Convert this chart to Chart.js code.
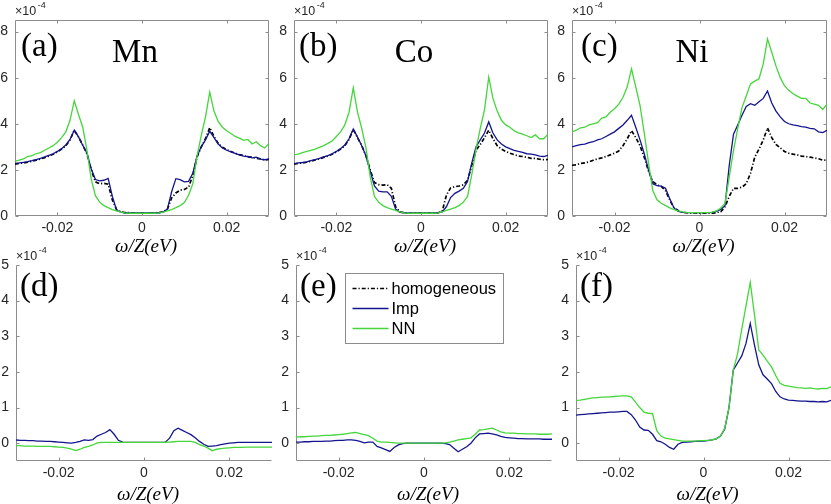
<!DOCTYPE html>
<html>
<head>
<meta charset="utf-8">
<script src="https://cdn.jsdelivr.net/npm/chart.js@4.4.1/dist/chart.umd.min.js"></script>
<style>
  body { margin: 0; background: #fff; width: 831px; height: 504px; overflow: hidden; position: relative; }
  .panel { position: absolute; }
</style>
</head>
<body>
<script>
// omega/Z grid (eV), shared by every panel
const omega = [
  -0.030, -0.029, -0.028, -0.027, -0.026, -0.025, -0.024, -0.023, -0.022, -0.021,
  -0.020, -0.019, -0.018, -0.017, -0.016, -0.015, -0.014, -0.013, -0.012, -0.011,
  -0.010, -0.009, -0.008, -0.007, -0.006, -0.005, -0.004, -0.003, -0.002, -0.001,
  0.000,
  0.001, 0.002, 0.003, 0.004, 0.005, 0.006, 0.007, 0.008, 0.009, 0.010,
  0.011, 0.012, 0.013, 0.014, 0.015, 0.016, 0.017, 0.018, 0.019, 0.020,
  0.021, 0.022, 0.023, 0.024, 0.025, 0.026, 0.027, 0.028, 0.029, 0.030
];

const xTicks = [-0.02, 0, 0.02];
const xTickLabels = ['-0.02', '0', '0.02'];
const topYTicks = [0, 2, 4, 6, 8];
const bottomYTicks = [0, 1, 2, 3, 4, 5];

// top row: DOS (x 1e-4)
const homMn = [2.25,2.28,2.30,2.33,2.38,2.42,2.47,2.53,2.60,2.68, 2.78,2.90,3.05,3.30,3.72,3.43,3.07,2.70,2.00,1.48, 1.40,1.42,1.38,0.70,0.28,0.18,0.15,0.14,0.13,0.13, 0.13,
  0.13,0.13,0.14,0.15,0.18,0.30,0.78,1.00,1.12,1.15, 1.25,1.75,2.55,3.00,3.35,3.83,3.45,3.15,2.98,2.88, 2.80,2.72,2.66,2.62,2.56,2.55,2.50,2.48,2.42,2.45];
const impMn = [2.28,2.30,2.33,2.36,2.40,2.45,2.50,2.56,2.63,2.70, 2.80,2.92,3.08,3.32,3.72,3.43,3.07,2.72,2.05,1.58, 1.52,1.55,1.63,0.85,0.25,0.17,0.14,0.13,0.13,0.13, 0.13,
  0.13,0.13,0.13,0.14,0.17,0.30,1.05,1.62,1.58,1.48, 1.50,1.85,2.60,3.00,3.30,3.68,3.40,3.12,2.95,2.85, 2.78,2.72,2.65,2.60,2.58,2.52,2.55,2.47,2.44,2.48];
const nnMn = [2.38,2.42,2.48,2.58,2.62,2.70,2.75,2.85,2.95,3.05, 3.20,3.40,3.65,4.15,5.00,4.40,3.85,2.85,1.60,0.88, 0.60,0.45,0.36,0.28,0.22,0.17,0.14,0.12,0.12,0.12, 0.12,
  0.12,0.12,0.12,0.14,0.17,0.22,0.28,0.36,0.45,0.58, 0.90,1.40,2.60,3.50,4.30,5.37,4.55,4.10,3.85,3.70, 3.58,3.45,3.38,3.28,3.32,3.12,3.22,3.05,2.95,3.15];

const homCo = [2.25,2.28,2.30,2.33,2.38,2.43,2.48,2.54,2.60,2.68, 2.78,2.90,3.05,3.32,3.75,3.40,3.05,2.62,2.00,1.45, 1.36,1.34,1.36,1.20,0.40,0.18,0.14,0.13,0.13,0.13, 0.13,
  0.13,0.13,0.13,0.14,0.20,0.90,1.22,1.27,1.30,1.35, 1.55,2.20,2.85,3.10,3.40,3.72,3.35,3.05,2.90,2.80, 2.72,2.66,2.60,2.58,2.55,2.50,2.50,2.46,2.44,2.45];
const impCo = [2.27,2.30,2.32,2.35,2.40,2.45,2.50,2.56,2.62,2.70, 2.80,2.92,3.08,3.35,3.77,3.42,3.05,2.60,1.95,1.30, 1.08,1.05,1.05,0.85,0.30,0.16,0.14,0.13,0.13,0.13, 0.13,
  0.13,0.13,0.13,0.14,0.18,0.40,0.80,0.98,1.08,1.20, 1.50,2.30,3.00,3.30,3.60,4.08,3.60,3.30,3.12,3.00, 2.92,2.85,2.80,2.76,2.70,2.68,2.65,2.60,2.58,2.63];
const nnCo = [2.65,2.68,2.75,2.80,2.85,2.90,2.98,3.05,3.15,3.25, 3.45,3.65,3.95,4.50,5.56,4.50,3.80,2.95,1.70,0.85, 0.60,0.45,0.36,0.30,0.24,0.18,0.14,0.12,0.12,0.12, 0.12,
  0.12,0.12,0.12,0.14,0.18,0.24,0.30,0.36,0.45,0.60, 0.85,1.80,2.90,3.80,4.60,6.02,5.10,4.55,4.15,3.95, 3.85,3.70,3.60,3.55,3.48,3.40,3.52,3.35,3.35,3.55];

const homNi = [2.20,2.22,2.28,2.30,2.35,2.42,2.48,2.52,2.58,2.65, 2.72,2.82,3.05,3.35,3.70,3.40,3.05,2.55,1.95,1.50, 1.35,1.28,1.10,0.70,0.35,0.24,0.16,0.14,0.13,0.13, 0.12,
  0.12,0.12,0.12,0.14,0.18,0.40,0.85,1.20,1.20,1.25, 1.40,1.85,2.55,2.90,3.30,3.82,3.40,3.10,2.95,2.80, 2.72,2.68,2.65,2.60,2.58,2.55,2.52,2.48,2.42,2.42];
const impNi = [3.00,3.05,3.10,3.12,3.18,3.22,3.30,3.35,3.45,3.55, 3.65,3.80,3.95,4.15,4.37,3.85,3.30,2.70,2.00,1.40, 1.32,1.30,1.20,0.75,0.35,0.20,0.16,0.15,0.15,0.15, 0.15,
  0.15,0.15,0.16,0.20,0.28,0.45,2.20,3.55,3.95,4.37, 4.75,4.87,4.80,4.95,5.10,5.42,4.90,4.55,4.30,4.10, 4.00,3.95,3.92,3.88,3.85,3.80,3.78,3.65,3.62,3.72];
const nnNi = [3.65,3.72,3.82,3.85,3.95,4.00,4.05,4.25,4.30,4.50, 4.65,4.85,5.15,5.60,6.38,5.60,4.80,3.60,2.30,1.10, 0.70,0.55,0.45,0.35,0.28,0.22,0.18,0.16,0.15,0.15, 0.15,
  0.15,0.15,0.17,0.22,0.35,0.55,1.70,2.85,3.80,4.70, 5.20,5.73,5.85,5.95,6.60,7.68,7.10,6.50,6.00,5.65, 5.45,5.30,5.20,5.10,5.10,4.90,4.85,4.80,4.62,4.85];

// bottom row: change relative to homogeneous (x 1e-4)
const impMnDiff = [0.09,0.08,0.08,0.07,0.07,0.06,0.06,0.05,0.05,0.04, 0.03,0.02,0.01,0.00,0.02,0.05,0.09,0.08,0.10,0.20, 0.25,0.30,0.38,0.25,0.08,0.03,0.02,0.02,0.02,0.02, 0.02,
  0.02,0.02,0.02,0.02,0.03,0.14,0.35,0.42,0.36,0.30, 0.24,0.15,0.05,-0.03,-0.09,-0.08,-0.07,-0.04,-0.02,0.00, 0.01,0.02,0.02,0.02,0.02,0.02,0.02,0.02,0.02,0.02];
const nnMnDiff = [-0.07,-0.07,-0.08,-0.08,-0.08,-0.09,-0.09,-0.09,-0.09,-0.10, -0.11,-0.12,-0.14,-0.17,-0.21,-0.17,-0.12,-0.09,-0.05,0.01, 0.02,0.02,0.02,0.02,0.02,0.02,0.02,0.02,0.02,0.02, 0.02,
  0.02,0.02,0.02,0.02,0.02,0.03,0.04,0.05,0.05,0.05, 0.05,0.02,-0.04,-0.08,-0.14,-0.21,-0.17,-0.15,-0.14,-0.13, -0.12,-0.12,-0.12,-0.11,-0.11,-0.11,-0.11,-0.11,-0.11,-0.11];

const impCoDiff = [0.03,0.03,0.04,0.04,0.05,0.05,0.05,0.06,0.06,0.07, 0.08,0.08,0.09,0.09,0.08,0.05,0.01,0.03,0.03,-0.09, -0.13,-0.18,-0.23,-0.12,-0.05,-0.01,0.00,0.00,0.00,0.00, 0.00,
  0.00,0.00,0.00,0.00,-0.01,-0.04,-0.14,-0.24,-0.17,-0.10, 0.00,0.15,0.26,0.27,0.28,0.26,0.23,0.19,0.16,0.15, 0.14,0.13,0.13,0.12,0.12,0.12,0.12,0.11,0.11,0.11];
const nnCoDiff = [0.17,0.18,0.18,0.19,0.20,0.20,0.21,0.22,0.22,0.23, 0.24,0.25,0.27,0.29,0.30,0.27,0.24,0.21,0.14,0.06, 0.03,0.03,0.02,0.01,0.00,0.00,0.00,0.00,0.00,0.00, 0.00,
  0.00,0.00,0.00,0.00,0.01,0.03,0.06,0.09,0.11,0.13, 0.15,0.25,0.37,0.38,0.40,0.42,0.37,0.32,0.29,0.28, 0.28,0.27,0.27,0.26,0.26,0.26,0.25,0.25,0.25,0.26];

const impNiDiff = [0.79,0.80,0.81,0.82,0.83,0.84,0.85,0.86,0.87,0.87, 0.88,0.89,0.89,0.80,0.65,0.45,0.37,0.36,0.25,0.07, 0.04,-0.03,-0.12,-0.17,-0.03,0.02,0.03,0.04,0.05,0.06, 0.06,
  0.07,0.09,0.12,0.20,0.40,1.00,2.05,2.25,2.45,2.80, 3.36,2.75,2.20,1.92,1.80,1.67,1.45,1.30,1.24,1.21, 1.20,1.19,1.18,1.18,1.17,1.17,1.16,1.17,1.16,1.20];
const nnNiDiff = [1.20,1.21,1.23,1.25,1.27,1.28,1.29,1.29,1.30,1.31, 1.32,1.33,1.33,1.30,1.15,1.00,0.87,0.84,0.83,0.35, 0.20,0.14,0.12,0.10,0.08,0.06,0.06,0.06,0.06,0.07, 0.07,
  0.08,0.09,0.12,0.20,0.42,1.00,2.05,2.50,3.20,3.85, 4.51,3.60,2.62,2.47,2.30,2.14,1.90,1.68,1.62,1.60, 1.58,1.56,1.55,1.54,1.55,1.53,1.52,1.54,1.53,1.58];

const seriesNames = ['homogeneous', 'Imp', 'NN'];
const panelLetters = ['(a)', '(b)', '(c)', '(d)', '(e)', '(f)'];
const elementNames = ['Mn', 'Co', 'Ni'];

const HOM = { color: '#000000', width: 1.7, dash: [4, 2, 1.2, 2], order: 3 };
const IMP = { color: '#14148f', width: 1.3, dash: [], order: 2 };
const NN = { color: '#44d63a', width: 1.3, dash: [], order: 1 };

const SANS = '"Liberation Sans", Arial, Helvetica, sans-serif';
const SERIF = '"Liberation Serif", "Times New Roman", serif';

// Frame, inward ticks, labels and legend (MATLAB look)
const decor = {
  id: 'decor',
  beforeDatasetsDraw(chart, args, o) {
    const { ctx, chartArea: a, scales: { x, y } } = chart;
    const L = Math.round(a.left) + 0.5, R = Math.round(a.right) - 0.5;
    const T = Math.round(a.top) + 0.5, B = Math.round(a.bottom) - 0.5;
    ctx.save();
    ctx.strokeStyle = '#8c8c8c';
    ctx.lineWidth = 1;
    ctx.beginPath();
    ctx.moveTo(L, T); ctx.lineTo(L, B); ctx.lineTo(R, B);
    if (o.box) { ctx.lineTo(R, T); ctx.lineTo(L, T); }
    xTicks.forEach(v => {
      const p = Math.round(x.getPixelForValue(v)) + 0.5;
      ctx.moveTo(p, B); ctx.lineTo(p, B - 3);
      if (o.box) { ctx.moveTo(p, T); ctx.lineTo(p, T + 3); }
    });
    o.yTicks.forEach(v => {
      const p = Math.round(y.getPixelForValue(v)) + 0.5;
      ctx.moveTo(L, p); ctx.lineTo(L + 3, p);
      if (o.box) { ctx.moveTo(R, p); ctx.lineTo(R - 3, p); }
    });
    ctx.stroke();
    ctx.restore();
  },
  afterDraw(chart, args, o) {
    const { ctx, chartArea: a } = chart;
    ctx.save();
    ctx.textBaseline = 'alphabetic';
    // exponent
    ctx.fillStyle = '#262626';
    ctx.textAlign = 'left';
    ctx.font = '12.5px ' + SANS;
    ctx.fillText('×10', a.left, a.top - 5);
    const w = ctx.measureText('×10').width;
    ctx.font = '9px ' + SANS;
    ctx.fillText('-4', a.left + w + 1.5, a.top - 12);
    // panel letter and element
    ctx.fillStyle = '#000';
    ctx.font = '33px ' + SERIF;
    ctx.fillText(o.letter, a.left + o.letterDx, a.top + o.letterDy);
    if (o.name) {
      ctx.textAlign = 'center';
      ctx.fillText(o.name, a.left + 120, a.top + 42);
    }
    // x label
    ctx.textAlign = 'center';
    ctx.font = 'italic 19px ' + SERIF;
    ctx.fillText('ω/Z(eV)', (a.left + a.right) / 2 + 4, a.bottom + o.xlabDy);
    // legend
    if (o.legend) {
      const bx = Math.round(a.left) + 49.5, by = Math.round(a.top) + 8.5;
      ctx.fillStyle = '#fff';
      ctx.fillRect(bx, by, 158, 70);
      ctx.strokeStyle = '#8c8c8c';
      ctx.lineWidth = 1;
      ctx.strokeRect(bx, by, 158, 70);
      [HOM, IMP, NN].forEach((s, i) => {
        const yy = by + 15 + i * 20;
        ctx.beginPath();
        ctx.strokeStyle = s.color;
        ctx.lineWidth = s.width;
        ctx.setLineDash(s.dash);
        ctx.moveTo(bx + 7, yy); ctx.lineTo(bx + 43, yy);
        ctx.stroke();
        ctx.setLineDash([]);
        ctx.fillStyle = '#000';
        ctx.textAlign = 'left';
        ctx.textBaseline = 'middle';
        ctx.font = '16.5px ' + SANS;
        ctx.fillText(seriesNames[i], bx + 46, yy + 1);
      });
    }
    ctx.restore();
  }
};

const panels = [
  { L: 15, R: 269, T: 20, B: 216, ymin: 0, ymax: 8.5, yTicks: topYTicks, box: true, letterDx: 6, letterDy: 36, xlabDy: 36, name: elementNames[0],
    series: [[homMn, HOM], [impMn, IMP], [nnMn, NN]] },
  { L: 294, R: 548, T: 20, B: 216, ymin: 0, ymax: 8.5, yTicks: topYTicks, box: true, letterDx: 5, letterDy: 36, xlabDy: 36, name: elementNames[1],
    series: [[homCo, HOM], [impCo, IMP], [nnCo, NN]] },
  { L: 572, R: 827, T: 20, B: 216, ymin: 0, ymax: 8.5, yTicks: topYTicks, box: true, letterDx: 9, letterDy: 36, xlabDy: 36, name: elementNames[2],
    series: [[homNi, HOM], [impNi, IMP], [nnNi, NN]] },
  { L: 16, R: 272, T: 265, B: 461, ymin: -0.5, ymax: 5, yTicks: bottomYTicks, box: false, letterDx: 4, letterDy: 31, xlabDy: 39,
    series: [[impMnDiff, IMP], [nnMnDiff, NN]] },
  { L: 296, R: 552, T: 265, B: 461, ymin: -0.5, ymax: 5, yTicks: bottomYTicks, box: false, letterDx: 4, letterDy: 31, xlabDy: 39, legend: true,
    series: [[impCoDiff, IMP], [nnCoDiff, NN]] },
  { L: 576, R: 831, T: 265, B: 461, ymin: -0.5, ymax: 5, yTicks: bottomYTicks, box: false, letterDx: 4, letterDy: 31, xlabDy: 39,
    series: [[impNiDiff, IMP], [nnNiDiff, NN]] }
];

panels.forEach((p, k) => {
  const padL = Math.min(p.L, 40), padT = 20, padR = Math.min(831 - p.R, 4), padB = 46;
  const div = document.createElement('div');
  div.className = 'panel';
  div.style.left = (p.L - padL) + 'px';
  div.style.top = (p.T - padT) + 'px';
  div.style.width = (p.R - p.L + padL + padR) + 'px';
  div.style.height = (p.B - p.T + padT + padB) + 'px';
  const cv = document.createElement('canvas');
  div.appendChild(cv);
  document.body.appendChild(div);

  new Chart(cv, {
    type: 'line',
    data: {
      datasets: p.series.map(([vals, st]) => ({
        data: omega.map((w, i) => ({ x: w, y: vals[i] })),
        borderColor: st.color,
        borderWidth: st.width,
        borderDash: st.dash,
        pointRadius: 0,
        fill: false,
        tension: 0,
        order: st.order
      }))
    },
    options: {
      responsive: true,
      maintainAspectRatio: false,
      animation: false,
      layout: { padding: { left: 0, top: padT, right: padR, bottom: 0 } },
      plugins: {
        legend: { display: false },
        tooltip: { enabled: false },
        decor: { box: p.box, yTicks: p.yTicks, letter: panelLetters[k], name: p.name || '', letterDx: p.letterDx, letterDy: p.letterDy, xlabDy: p.xlabDy, legend: !!p.legend }
      },
      scales: {
        x: {
          type: 'linear', min: -0.03, max: 0.03,
          grid: { display: false, drawTicks: false },
          border: { display: false },
          afterBuildTicks: s => { s.ticks = xTicks.map(v => ({ value: v })); },
          afterFit: s => { s.height = padB; },
          ticks: { padding: 4, color: '#262626', maxRotation: 0, autoSkip: false,
                   font: { family: SANS, size: 14 }, callback: (v, i) => xTickLabels[i] }
        },
        y: {
          type: 'linear', min: p.ymin, max: p.ymax,
          grid: { display: false, drawTicks: false },
          border: { display: false },
          afterBuildTicks: s => { s.ticks = p.yTicks.map(v => ({ value: v })); },
          afterFit: s => { s.width = padL; },
          ticks: { padding: 7, color: '#262626', font: { family: SANS, size: 14 },
                   callback: v => String(v) }
        }
      }
    },
    plugins: [decor]
  });
});
</script>
</body>
</html>
